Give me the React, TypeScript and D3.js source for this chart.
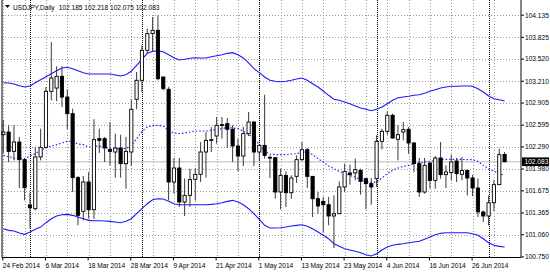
import React from "react";
import * as d3 from "d3";

// ---- data ----
const startDates = ["24 Feb 2014","6 Mar 2014","18 Mar 2014","28 Mar 2014","9 Apr 2014","21 Apr 2014","1 May 2014","13 May 2014","23 May 2014","4 Jun 2014","16 Jun 2014","26 Jun 2014"];
const labelEvery = 8;
const separatorBars = [5, 26, 48, 70, 91];
const priceTicks = [104.135,103.825,103.520,103.210,102.905,102.595,102.290,101.980,101.675,101.365,101.060,100.750];

const opens = [102.462,102.499,102.228,102.359,102.112,101.477,101.425,102.150,102.284,103.069,103.115,103.279,102.989,102.756,101.860,101.388,101.799,101.411,102.406,102.406,102.252,102.219,102.275,102.056,102.219,102.957,103.223,103.643,103.877,103.923,103.270,103.097,101.799,101.995,101.519,101.612,101.836,101.906,102.219,102.382,102.443,102.602,102.616,102.537,102.303,102.163,102.476,102.639,102.219,102.312,102.145,102.140,101.659,101.892,101.649,101.878,102.112,102.252,101.878,101.565,101.528,101.481,101.323,101.355,101.729,101.925,101.925,101.962,101.846,101.776,101.846,102.368,102.509,102.733,102.397,102.499,102.537,102.345,102.056,101.659,102.065,101.822,102.135,101.902,101.930,102.093,101.906,101.962,101.855,101.715,101.379,101.323,101.509,101.762,102.185];
const highs = [102.667,102.593,102.593,102.429,102.130,101.645,102.289,102.546,103.130,103.760,103.419,103.419,103.097,102.826,101.883,101.883,101.939,102.677,102.546,102.429,102.639,102.476,102.462,102.429,102.957,103.340,103.713,103.947,104.110,104.133,103.270,103.130,102.135,102.135,101.846,101.986,101.986,102.359,102.499,102.569,102.709,102.709,102.695,102.593,102.406,102.569,102.779,102.649,102.336,103.022,102.172,102.145,101.986,101.948,101.892,102.172,102.359,102.275,101.880,101.659,101.589,101.589,101.612,101.808,102.056,102.042,102.126,101.986,101.855,101.855,102.452,102.546,102.789,102.756,102.593,102.639,102.569,102.359,102.135,102.135,102.070,102.163,102.359,102.032,102.182,102.135,102.149,101.970,101.900,101.846,101.400,101.612,101.822,102.266,102.218];
const lows = [102.205,102.079,102.102,101.715,101.542,101.150,101.402,102.102,102.266,102.943,102.929,102.849,102.537,101.659,101.192,101.262,101.285,101.285,102.205,102.079,102.032,101.860,101.860,101.705,102.023,102.817,103.059,103.596,103.620,103.223,103.083,101.542,101.635,101.449,101.323,101.449,101.542,101.799,101.860,102.219,102.336,102.406,102.275,102.079,101.948,102.023,102.443,102.023,102.102,102.126,101.855,101.565,101.416,101.449,101.565,101.785,102.093,101.715,101.309,101.355,101.089,101.192,100.874,101.350,101.659,101.762,101.822,101.621,101.416,101.481,101.729,102.256,102.462,102.406,102.102,102.382,102.196,101.939,101.589,101.635,101.705,101.705,101.846,101.715,101.822,101.799,101.822,101.612,101.600,101.309,101.239,101.192,101.388,101.755,102.075];
const closes = [102.499,102.228,102.359,102.112,101.719,101.439,102.150,102.284,103.069,103.256,103.279,102.989,102.756,101.860,101.332,101.799,101.411,102.392,102.382,102.275,102.228,102.275,102.056,102.228,102.817,103.223,103.643,103.877,103.923,103.246,103.106,101.799,101.995,101.519,101.612,101.832,101.906,102.219,102.382,102.392,102.593,102.593,102.537,102.303,102.163,102.476,102.639,102.219,102.312,102.172,102.135,101.659,101.892,101.649,101.855,102.112,102.252,101.878,101.565,101.463,101.481,101.323,101.355,101.729,101.948,101.906,101.972,101.808,101.776,101.729,102.368,102.509,102.733,102.415,102.462,102.532,102.345,102.056,101.659,102.032,101.822,102.135,101.902,101.939,102.079,101.916,101.962,101.855,101.715,101.380,101.323,101.509,101.762,102.182,102.083];

const bandUpper = [103.190,103.186,103.172,103.148,103.130,103.144,103.190,103.232,103.274,103.316,103.358,103.396,103.405,103.386,103.358,103.330,103.312,103.312,103.312,103.312,103.312,103.298,103.284,103.302,103.349,103.433,103.517,103.601,103.629,103.638,103.624,103.582,103.540,103.508,103.517,103.531,103.540,103.536,103.536,103.554,103.568,103.582,103.601,103.610,103.582,103.536,103.466,103.386,103.330,103.270,103.223,103.209,103.204,103.209,103.223,103.242,103.256,103.223,103.176,103.130,103.073,103.013,102.957,102.943,102.919,102.896,102.863,102.835,102.817,102.798,102.817,102.849,102.896,102.943,102.980,102.989,102.999,103.013,103.022,103.041,103.069,103.092,103.115,103.130,103.139,103.139,103.144,103.144,103.139,103.106,103.059,103.003,102.966,102.952,102.933];
const bandMiddle = [102.172,102.154,102.135,102.126,102.126,102.163,102.196,102.242,102.284,102.303,102.322,102.345,102.368,102.368,102.331,102.322,102.289,102.298,102.303,102.289,102.266,102.266,102.266,102.266,102.312,102.406,102.509,102.569,102.588,102.593,102.579,102.523,102.485,102.476,102.485,102.499,102.513,102.513,102.513,102.523,102.537,102.546,102.565,102.555,102.546,102.513,102.462,102.415,102.322,102.228,102.191,102.182,102.182,102.182,102.191,102.196,102.219,102.219,102.182,102.126,102.079,102.023,101.986,101.948,101.916,101.892,101.864,101.836,101.808,101.790,101.799,101.855,101.916,101.962,101.995,102.018,102.032,102.056,102.070,102.079,102.088,102.098,102.112,102.116,102.116,102.116,102.116,102.112,102.112,102.088,102.032,101.986,101.948,101.916,101.892];
const bandLower = [101.145,101.122,101.112,101.084,101.066,101.098,101.136,101.168,101.229,101.285,101.323,101.341,101.346,101.332,101.309,101.285,101.262,101.257,101.257,101.253,101.248,101.239,101.229,101.248,101.285,101.355,101.425,101.495,101.551,101.565,101.561,101.528,101.495,101.481,101.481,101.481,101.481,101.481,101.481,101.486,101.495,101.509,101.528,101.542,101.519,101.481,101.425,101.355,101.276,101.192,101.155,101.155,101.159,101.168,101.183,101.192,101.201,101.178,101.145,101.098,101.052,101.005,100.935,100.898,100.865,100.846,100.828,100.809,100.781,100.762,100.795,100.846,100.888,100.912,100.926,100.935,100.949,100.958,100.968,100.996,101.028,101.061,101.080,101.089,101.089,101.089,101.089,101.089,101.075,101.052,101.005,100.949,100.912,100.898,100.888];

const symbolTitle = "USDJPY,Daily";
const lastBar = { o: 102.185, h: 102.218, l: 102.075, c: 102.083 };

const FONT = "'Liberation Sans', Arial, sans-serif";

export default function App() {
  const W = 550, H = 272;
  const plotL = 2, plotR = 521, plotT = 0, plotB = 257.5;
  const n = opens.length;
  const x = d3.scaleLinear().domain([0, n - 1]).range([3.3, 3.3 + 5.333 * (n - 1)]);
  const y = d3.scaleLinear().domain([100.75, 104.135]).range([256.9, 15.2]);
  const bodyW = 3.2;

  const lineGen = (arr: number[]) =>
    d3.line<number>().x((_, i) => x(i)).y((v) => y(v))(arr) || "";

  const gridX = d3.range(0, n, 4);
  const lastY = y(lastBar.c);

  return (
    <svg width={W} height={H} style={{ position: "absolute", left: 0, top: 0, background: "#fff" }}>
      <rect x={0} y={0} width={W} height={H} fill="#fff" />
      {/* grid */}
      {priceTicks.map((t) => (
        <line key={"h" + t} x1={plotL} x2={plotR} y1={Math.round(y(t)) + 0.5} y2={Math.round(y(t)) + 0.5}
          stroke="#999" strokeWidth={1} strokeDasharray="1,2" />
      ))}
      {gridX.map((k) => (
        <line key={"v" + k} x1={Math.round(x(k)) + 0.5} x2={Math.round(x(k)) + 0.5} y1={plotT} y2={plotB}
          stroke="#999" strokeWidth={1} strokeDasharray="1,2" />
      ))}
      {/* period separators */}
      {separatorBars.map((k) => (
        <line key={"s" + k} x1={Math.round(x(k)) + 0.5} x2={Math.round(x(k)) + 0.5} y1={plotT} y2={plotB}
          stroke="#000" strokeWidth={1} strokeDasharray="1,1" />
      ))}
      {/* bid line */}
      <line x1={plotL} x2={plotR} y1={lastY} y2={lastY} stroke="#cfcfcf" strokeWidth={1.5} />
      {/* bollinger */}
      <path d={lineGen(bandUpper)} fill="none" stroke="#1a1aff" strokeWidth={1.1} />
      <path d={lineGen(bandLower)} fill="none" stroke="#1a1aff" strokeWidth={1.1} />
      <path d={lineGen(bandMiddle)} fill="none" stroke="#1a1aff" strokeWidth={1.1} strokeDasharray="1.5,2" />
      {/* candles */}
      {opens.map((o, i) => {
        const c = closes[i];
        const cx = x(i);
        const top = y(Math.max(o, c));
        const bot = y(Math.min(o, c));
        const bull = c >= o;
        return (
          <g key={"c" + i}>
            <line x1={cx} x2={cx} y1={y(highs[i])} y2={y(lows[i])} stroke="#3a3a3a" strokeWidth={1} />
            <rect x={cx - bodyW / 2} y={top} width={bodyW} height={Math.max(bot - top, 0.8)}
              fill={bull ? "#fff" : "#000"} stroke="#000" strokeWidth={0.9} />
          </g>
        );
      })}
      {/* frame */}
      <line x1={plotL} x2={plotL} y1={plotT} y2={plotB} stroke="#000" strokeWidth={1} />
      <line x1={plotL} x2={plotR} y1={plotB} y2={plotB} stroke="#000" strokeWidth={1} />
      <line x1={plotR} x2={plotR} y1={plotT} y2={plotB} stroke="#333" strokeWidth={1.2} />
      {/* price axis */}
      {priceTicks.map((t) => (
        <g key={"pt" + t}>
          <line x1={plotR} x2={plotR + 3} y1={y(t)} y2={y(t)} stroke="#000" />
          <text x={525} y={y(t) + 2.3} fontSize={6.6} fontFamily={FONT} fill="#000">{t.toFixed(3)}</text>
        </g>
      ))}
      <rect x={522} y={lastY - 4.3} width={27} height={8.6} fill="#000" />
      <text x={524.5} y={lastY + 2.4} fontSize={6.6} fontFamily={FONT} fill="#fff">{lastBar.c.toFixed(3)}</text>
      {/* time axis */}
      {startDates.map((d, j) => {
        const k = j * labelEvery;
        return (
          <g key={"d" + d}>
            <line x1={x(k) - 0.5} x2={x(k) - 0.5} y1={plotB} y2={plotB + 3} stroke="#000" />
            <text x={x(k) - 0.5} y={267.5} fontSize={6.6} fontFamily={FONT} fill="#000">{d}</text>
          </g>
        );
      })}
      {/* title */}
      <path d="M5,5 L10,5 L7.5,8 Z" fill="#000" />
      <text x={13} y={9.5} fontSize={6.6} fontFamily={FONT} fill="#000">
        {symbolTitle}
        <tspan dx={4}>{[lastBar.o, lastBar.h, lastBar.l, lastBar.c].map((v) => v.toFixed(3)).join(" ")}</tspan>
      </text>
    </svg>
  );
}
